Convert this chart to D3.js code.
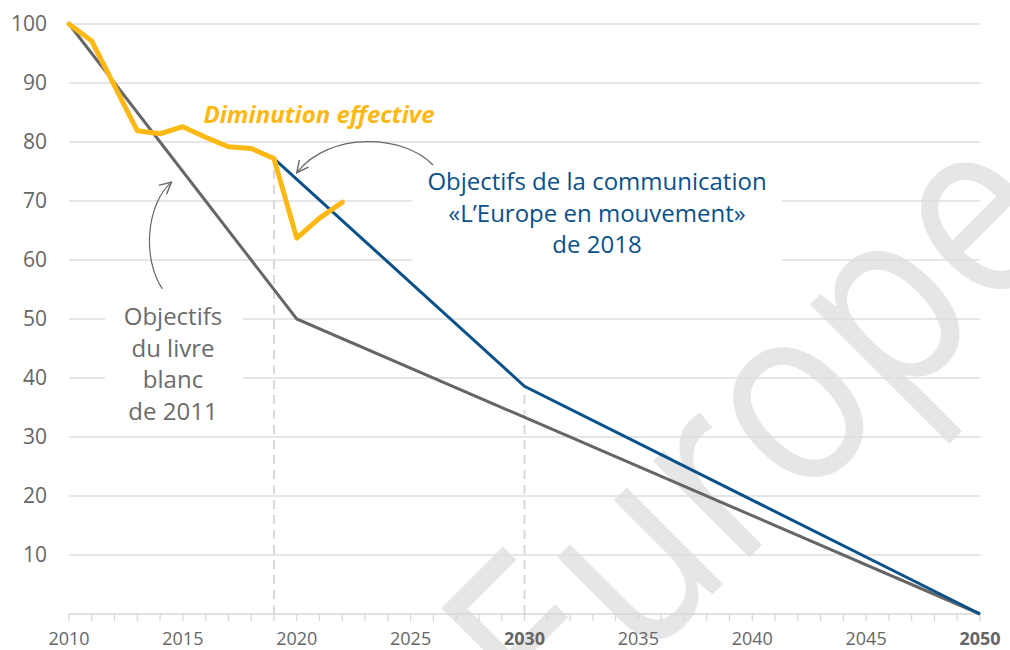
<!DOCTYPE html>
<html>
<head>
<meta charset="utf-8">
<script src="https://cdn.jsdelivr.net/npm/d3@7"></script>
<style>
  body { margin: 0; background: #fff; }
  text { font-family: "Open Sans", "Noto Sans", sans-serif; }
</style>
</head>
<body>
<script>
// chart data
var actualYears = [2010, 2011, 2012, 2013, 2014, 2015, 2016, 2017, 2018, 2019, 2020, 2021, 2022];
var actualValues = [100, 97.1, 89.5, 81.9, 81.4, 82.6, 80.8, 79.2, 78.9, 77.2, 63.7, 67.1, 69.8];

var whitePaperYears = [2010, 2020, 2050];
var whitePaperValues = [100, 50, 0];

var mobilityYears = [2019, 2030, 2050];
var mobilityValues = [77.2, 38.6, 0];

var markerYears = [2019, 2030];
var xTickLabels = [2010, 2015, 2020, 2025, 2030, 2035, 2040, 2045, 2050];
var boldTickLabels = [2030, 2050];
var yTickLabels = [10, 20, 30, 40, 50, 60, 70, 80, 90, 100];

var width = 1010, height = 650;

var svg = d3.select("body").append("svg").attr("width", width).attr("height", height);

var x = d3.scaleLinear().domain([2010, 2050]).range([69, 980]);
var y = d3.scaleLinear().domain([0, 100]).range([614, 24]);

// watermark behind everything
svg.append("text")
  .text("Europe")
  .attr("transform", "translate(815,492) rotate(-45) scale(0.86,1)")
  .attr("text-anchor", "middle")
  .style("font-size", "255px")
  .style("fill", "#e6e6e6");

// horizontal grid
svg.append("g").selectAll("line").data(yTickLabels).enter().append("line")
  .attr("x1", x(2010)).attr("x2", x(2050))
  .attr("y1", function(d) { return y(d); })
  .attr("y2", function(d) { return y(d); })
  .style("stroke", "#dedede")
  .style("stroke-width", 1.5);

// white boxes behind the two labels cut the grid
svg.append("rect").attr("x", 105).attr("y", 292).attr("width", 138).attr("height", 136).style("fill", "#fff");
svg.append("rect").attr("x", 412).attr("y", 152).attr("width", 370).attr("height", 116).style("fill", "#fff");

// x axis baseline and yearly ticks
svg.append("line")
  .attr("x1", x(2010)).attr("x2", x(2050))
  .attr("y1", y(0)).attr("y2", y(0))
  .style("stroke", "#d6d6d6").style("stroke-width", 1.5);

svg.append("g").selectAll("line").data(d3.range(2010, 2051)).enter().append("line")
  .attr("x1", function(d) { return x(d); }).attr("x2", function(d) { return x(d); })
  .attr("y1", y(0)).attr("y2", y(0) + 7)
  .style("stroke", "#d6d6d6").style("stroke-width", 1.2);

svg.append("g").selectAll("text").data(xTickLabels).enter().append("text")
  .text(function(d) { return d; })
  .attr("x", function(d) { return x(d); })
  .attr("y", 645)
  .attr("text-anchor", "middle")
  .style("font-size", "18px")
  .style("font-weight", function(d) { return boldTickLabels.indexOf(d) >= 0 ? "bold" : "normal"; })
  .style("fill", "#666");

svg.append("g").selectAll("text").data(yTickLabels).enter().append("text")
  .text(function(d) { return d; })
  .attr("x", 47)
  .attr("y", function(d) { return y(d); })
  .attr("dy", "0.35em")
  .attr("text-anchor", "end")
  .style("font-size", "21px")
  .style("fill", "#666");

// dashed guides
var markerValue = {2019: mobilityValues[0], 2030: mobilityValues[1]};
svg.append("g").selectAll("line").data(markerYears).enter().append("line")
  .attr("x1", function(d) { return x(d); }).attr("x2", function(d) { return x(d); })
  .attr("y1", y(0))
  .attr("y2", function(d) { return y(markerValue[d]) + 4; })
  .style("stroke", "#d9d9d9")
  .style("stroke-width", 2)
  .style("stroke-dasharray", "9,6");

var line = d3.line()
  .x(function(d) { return x(d[0]); })
  .y(function(d) { return y(d[1]); });

svg.append("path")
  .attr("d", line(d3.zip(whitePaperYears, whitePaperValues)))
  .style("fill", "none").style("stroke", "#666").style("stroke-width", 3);

svg.append("path")
  .attr("d", line(d3.zip(mobilityYears, mobilityValues)))
  .style("fill", "none").style("stroke", "#0b5189").style("stroke-width", 3);

svg.append("path")
  .attr("d", line(d3.zip(actualYears, actualValues)))
  .style("fill", "none").style("stroke", "#fdb813").style("stroke-width", 5)
  .style("stroke-linejoin", "round").style("stroke-linecap", "round");

// arrows
var defs = svg.append("defs");
defs.append("marker")
  .attr("id", "head")
  .attr("viewBox", "0 0 12 12")
  .attr("refX", 11).attr("refY", 6)
  .attr("markerWidth", 14).attr("markerHeight", 14)
  .attr("markerUnits", "userSpaceOnUse")
  .attr("orient", "auto")
  .append("path")
  .attr("d", "M1,1 L11,6 L1,11")
  .style("fill", "none").style("stroke", "#666").style("stroke-width", 1.2);

function curve(p0, c1, c2, p1) {
  var p = d3.path();
  p.moveTo(x(p0[0]), y(p0[1]));
  p.bezierCurveTo(x(c1[0]), y(c1[1]), x(c2[0]), y(c2[1]), x(p1[0]), y(p1[1]));
  return p.toString();
}

svg.append("path")
  .attr("d", curve([2014.1, 55.1], [2013.2, 60.3], [2013.4, 69.5], [2014.5, 73.2]))
  .attr("marker-end", "url(#head)")
  .style("fill", "none").style("stroke", "#666").style("stroke-width", 1.2);

svg.append("path")
  .attr("d", curve([2025.98, 76.1], [2024.75, 81.2], [2021.46, 82.0], [2020.0, 74.8]))
  .attr("marker-end", "url(#head)")
  .style("fill", "none").style("stroke", "#666").style("stroke-width", 1.2);

// labels
svg.append("text")
  .text("Diminution effective")
  .attr("x", 319).attr("y", 115).attr("dy", "0.35em")
  .attr("text-anchor", "middle")
  .style("font-size", "24px").style("font-weight", "bold").style("font-style", "italic")
  .style("fill", "#fdb813");

var blueLines = ["Objectifs de la communication", "\u00abL\u2019Europe en mouvement\u00bb", "de 2018"];
svg.append("g").selectAll("text").data(blueLines).enter().append("text")
  .text(function(d) { return d; })
  .attr("x", 597)
  .attr("y", function(d, i) { return 182 + i * 31.5; })
  .attr("dy", "0.35em")
  .attr("text-anchor", "middle")
  .style("font-size", "24px")
  .style("fill", "#0b5189");

var greyLines = ["Objectifs", "du livre", "blanc", "de 2011"];
svg.append("g").selectAll("text").data(greyLines).enter().append("text")
  .text(function(d) { return d; })
  .attr("x", 173)
  .attr("y", function(d, i) { return 317 + i * 31.5; })
  .attr("dy", "0.35em")
  .attr("text-anchor", "middle")
  .style("font-size", "24px")
  .style("fill", "#6b6b6b");
</script>
</body>
</html>
